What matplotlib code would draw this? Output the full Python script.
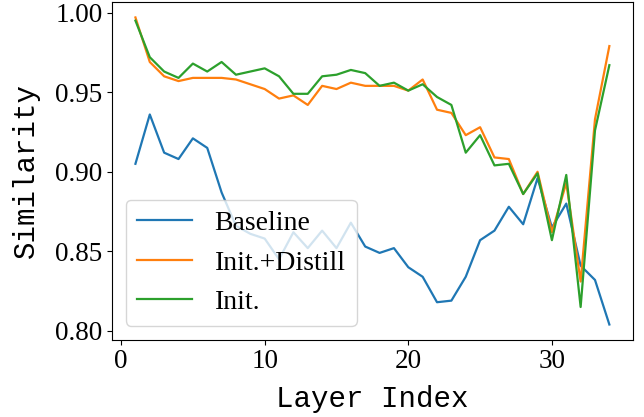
import numpy as np
import matplotlib
matplotlib.use("Agg")
import matplotlib.pyplot as plt

# per-layer similarity for each training setup
layers = np.arange(1, 35)

baseline = [0.905, 0.936, 0.912, 0.908, 0.921, 0.915, 0.887, 0.866, 0.861, 0.858,
            0.845, 0.862, 0.852, 0.863, 0.852, 0.868, 0.853, 0.849, 0.852, 0.840,
            0.834, 0.818, 0.819, 0.834, 0.857, 0.863, 0.878, 0.867, 0.896, 0.865,
            0.880, 0.841, 0.832, 0.804]

init_distill = [0.997, 0.969, 0.960, 0.957, 0.959, 0.959, 0.959, 0.958, 0.955, 0.952,
                0.946, 0.948, 0.942, 0.954, 0.952, 0.956, 0.954, 0.954, 0.954, 0.951,
                0.958, 0.939, 0.937, 0.923, 0.928, 0.909, 0.908, 0.886, 0.900, 0.862,
                0.893, 0.831, 0.933, 0.979]

init_only = [0.995, 0.972, 0.963, 0.959, 0.968, 0.963, 0.969, 0.961, 0.963, 0.965,
             0.960, 0.949, 0.949, 0.960, 0.961, 0.964, 0.962, 0.954, 0.956, 0.951,
             0.955, 0.947, 0.942, 0.912, 0.923, 0.904, 0.905, 0.886, 0.899, 0.857,
             0.898, 0.815, 0.926, 0.967]

plt.rcParams['font.family'] = ['Liberation Serif', 'DejaVu Serif']
plt.rcParams['mathtext.fontset'] = 'stix'

fig, ax = plt.subplots(figsize=(6.44, 4.17), dpi=100)
fig.subplots_adjust(left=0.1735, right=0.983, top=0.995, bottom=0.185)

ax.plot(layers, baseline, label='Baseline', lw=1.6)
ax.plot(layers, init_distill, label='Init.+Distill', lw=1.6)
ax.plot(layers, init_only, label='Init.', lw=1.6)

ax.set_xticks([0, 10, 20, 30])
ax.set_yticks([0.80, 0.85, 0.90, 0.95, 1.00])
ax.tick_params(labelsize=19.5, pad=3)

mono = ['Liberation Mono', 'DejaVu Sans Mono']
ax.set_xlabel('Layer Index', family=mono, fontsize=21, labelpad=8)
ax.set_ylabel('Similarity', family=mono, fontsize=21, labelpad=11)

ax.legend(loc='lower left', fontsize=20)

fig.savefig('out.png', dpi=100)
